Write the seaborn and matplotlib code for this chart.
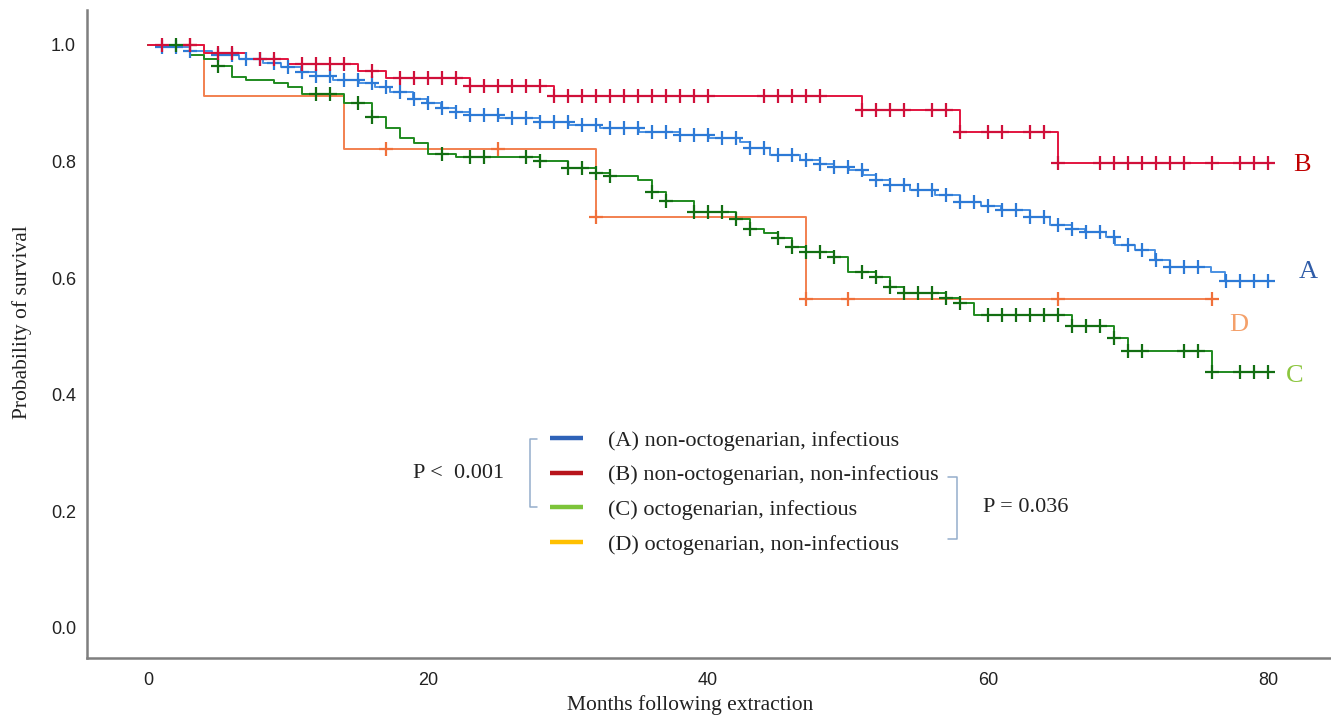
import numpy as np
import pandas as pd
import matplotlib.pyplot as plt
import seaborn as sns
from matplotlib.lines import Line2D

# Kaplan-Meier steps: (month of drop, survival after drop)
A_times = [0.9, 3.0, 4.6, 6.5, 8.2, 9.5, 10.9, 12.0, 13.2, 15.1, 16.2, 17.3, 18.9, 19.9, 20.9,
           22.0, 23.0, 25.1, 28.0, 30.1, 32.3, 35.1, 38.0, 40.1, 42.3, 43.0, 44.4, 46.6, 48.0,
           49.0, 50.1, 51.1, 52.0, 53.0, 54.4, 56.2, 58.0, 59.5, 60.9, 63.0, 64.4, 66.0, 66.9,
           68.4, 69.1, 70.5, 71.9, 73.0, 75.9, 76.9]
A_surv = [0.997, 0.990, 0.983, 0.976, 0.969, 0.962, 0.954, 0.947, 0.940, 0.935, 0.928, 0.920,
          0.908, 0.900, 0.892, 0.885, 0.880, 0.875, 0.868, 0.863, 0.858, 0.851, 0.846, 0.840,
          0.834, 0.823, 0.811, 0.803, 0.795, 0.791, 0.786, 0.777, 0.768, 0.760, 0.751, 0.743,
          0.731, 0.724, 0.717, 0.705, 0.691, 0.685, 0.679, 0.671, 0.657, 0.648, 0.631, 0.619,
          0.611, 0.595]
A_cens = [1, 2, 3, 5, 6, 7, 8, 9, 10, 11, 12, 13, 14, 15, 16, 17, 18, 19, 20, 21, 22, 23, 24,
          25, 26, 27, 28, 29, 30, 31, 32, 33, 34, 35, 36, 37, 38, 39, 40, 41, 42, 43, 44, 45,
          46, 47, 48, 49, 50, 51, 52, 53, 54, 55, 56, 57, 58, 59, 60, 61, 62, 63, 64, 65, 66,
          67, 68, 69, 70, 71, 72, 73, 74, 75, 77, 78, 79, 80]

B_times = [4, 7, 10, 15, 17, 23, 29, 51, 58, 65]
B_surv = [0.986, 0.976, 0.967, 0.956, 0.943, 0.930, 0.913, 0.888, 0.850, 0.798]
B_cens = [1, 3, 5, 6, 8, 9, 11, 12, 13, 14, 16, 18, 19, 20, 21, 22, 23, 24, 25, 26, 27, 28,
          29, 30, 31, 32, 33, 34, 35, 36, 37, 38, 39, 40, 44, 45, 46, 47, 48, 51, 52, 53, 54,
          56, 57, 58, 60, 61, 63, 64, 65, 68, 69, 70, 71, 72, 73, 74, 76, 78, 79, 80]

C_times = [3, 4, 5, 6, 7, 9, 10, 11, 14, 16, 17, 18, 19, 20, 22, 28, 30, 32, 33, 35, 36, 37,
           39, 42, 43, 44, 45, 46, 47, 49, 50, 52, 53, 54, 57, 58, 59, 66, 69, 70, 76]
C_surv = [0.983, 0.976, 0.964, 0.945, 0.940, 0.935, 0.928, 0.916, 0.900, 0.876, 0.858, 0.840,
          0.832, 0.813, 0.808, 0.801, 0.789, 0.781, 0.775, 0.768, 0.747, 0.733, 0.714, 0.702,
          0.684, 0.677, 0.669, 0.653, 0.645, 0.636, 0.611, 0.602, 0.585, 0.575, 0.566, 0.557,
          0.536, 0.518, 0.497, 0.475, 0.439]
C_cens = [2, 5, 12, 13, 15, 16, 21, 23, 24, 27, 28, 30, 31, 32, 33, 36, 37, 39, 40, 41, 42,
          43, 45, 46, 47, 48, 49, 51, 52, 53, 54, 55, 56, 57, 58, 60, 61, 62, 63, 64, 65, 66,
          67, 68, 69, 70, 71, 74, 75, 76, 78, 79, 80]

D_times = [4, 14, 32, 47]
D_surv = [0.913, 0.822, 0.705, 0.564]
D_cens = [3, 17, 25, 32, 47, 50, 65, 76]

groups = ['A', 'D', 'C', 'B']
end_month = {'A': 80, 'B': 80, 'C': 80, 'D': 76}
steps = {'A': (A_times, A_surv), 'B': (B_times, B_surv),
         'C': (C_times, C_surv), 'D': (D_times, D_surv)}
cens = {'A': A_cens, 'B': B_cens, 'C': C_cens, 'D': D_cens}

legend_labels = ['(A) non-octogenarian, infectious',
                 '(B) non-octogenarian, non-infectious',
                 '(C) octogenarian, infectious',
                 '(D) octogenarian, non-infectious']

line_col = {'A': '#4a90e2', 'B': '#e3143f', 'C': '#1f8a1f', 'D': '#f2804f'}
mark_col = {'A': '#2d7ad6', 'B': '#d0103a', 'C': '#126e12', 'D': '#f0703a'}
legend_col = ['#2e62b8', '#b8141c', '#7dc43a', '#ffc000']
letter_col = {'A': '#2f5ca8', 'B': '#c00000', 'C': '#8cc63f', 'D': '#f4a06a'}

rows, mrows = [], []
for g in groups:
    t, s = steps[g]
    xs = [0.0] + list(t) + [end_month[g]]
    ys = [1.0] + list(s) + [s[-1]]
    for x, y in zip(xs, ys):
        rows.append({'group': g, 'month': x, 'surv': y})
    for c in cens[g]:
        idx = np.searchsorted(np.array(t, dtype=float), c, side='right')
        mrows.append({'group': g, 'month': c, 'surv': 1.0 if idx == 0 else s[idx - 1]})
curves = pd.DataFrame(rows)
marks = pd.DataFrame(mrows)

sns.set_theme(style='white')
plt.rcParams['font.family'] = ['Liberation Sans', 'DejaVu Sans']

fig = plt.figure(figsize=(13.31, 7.18), dpi=100)
ax = fig.add_axes([87 / 1331, 1 - 658 / 718, 1 - 87 / 1331, (658 - 10) / 718])

for g in groups:
    sub = curves[curves['group'] == g]
    sns.lineplot(data=sub, x='month', y='surv', color=line_col[g], drawstyle='steps-post',
                 estimator=None, sort=False, linewidth=1.4, ax=ax, legend=False)
    msub = marks[marks['group'] == g]
    sns.scatterplot(data=msub, x='month', y='surv', color=mark_col[g], marker='+', s=110,
                    linewidth=1.6, ax=ax, legend=False, zorder=3)

ax.set_xlim(-4.36, 84.5)
ax.set_ylim(-0.0515, 1.06)
ax.set_xticks([0, 20, 40, 60, 80])
ax.set_yticks([0.0, 0.2, 0.4, 0.6, 0.8, 1.0])
ax.set_yticklabels(['0.0', '0.2', '0.4', '0.6', '0.8', '1.0'])
ax.tick_params(axis='both', length=0, labelsize=13, colors='#222222')
ax.tick_params(axis='y', pad=8)
ax.tick_params(axis='x', pad=10)
for side in ['top', 'right']:
    ax.spines[side].set_visible(False)
for side in ['left', 'bottom']:
    ax.spines[side].set_color('#7f7f7f')
    ax.spines[side].set_linewidth(1.8)

serif = ['Liberation Serif', 'DejaVu Serif']
ax.set_xlabel('Months following extraction', family=serif, fontsize=15.5, color='#222222')
ax.set_ylabel('Probability of survival', family=serif, fontsize=15.5, color='#222222')
ax.xaxis.set_label_coords((690 - 87) / 1244, -(695 - 658) / 648)
ax.yaxis.set_label_coords(-(87 - 32) / 1244, (658 - 322) / 648)

# letters at the curve ends
letter_pos = {'B': (81.8, 0.794), 'A': (82.2, 0.611), 'D': (77.2, 0.52), 'C': (81.3, 0.432)}
for g, (x, y) in letter_pos.items():
    ax.text(x, y, g, family=serif, fontsize=19, color=letter_col[g], ha='left', va='center')

handles = [Line2D([0], [0], color=c, lw=3.2, solid_capstyle='butt') for c in legend_col]
leg = ax.legend(handles, legend_labels, prop={'family': serif, 'size': 16}, frameon=False,
                loc='upper left', bbox_to_anchor=(550 / 1331, 1 - 430 / 718),
                bbox_transform=fig.transFigure, borderpad=0, borderaxespad=0,
                handlelength=1.5, handletextpad=1.1, labelspacing=0.64)
for t in leg.get_texts():
    t.set_color('#222222')


def fig_line(xs, ys):
    fig.add_artist(Line2D([x / 1331 for x in xs], [1 - y / 718 for y in ys],
                          transform=fig.transFigure, color='#94aecb', lw=1.1))


fig_line([537, 530, 530, 537], [439, 439, 507, 507])
fig_line([948, 957, 957, 948], [477, 477, 539, 539])
fig.text(413 / 1331, 1 - 474 / 718, 'P <  0.001', family=serif, fontsize=16, color='#222222',
         ha='left', va='center')
fig.text(983 / 1331, 1 - 507 / 718, 'P = 0.036', family=serif, fontsize=16, color='#222222',
         ha='left', va='center')

fig.savefig('out.png', dpi=100, facecolor='white')
